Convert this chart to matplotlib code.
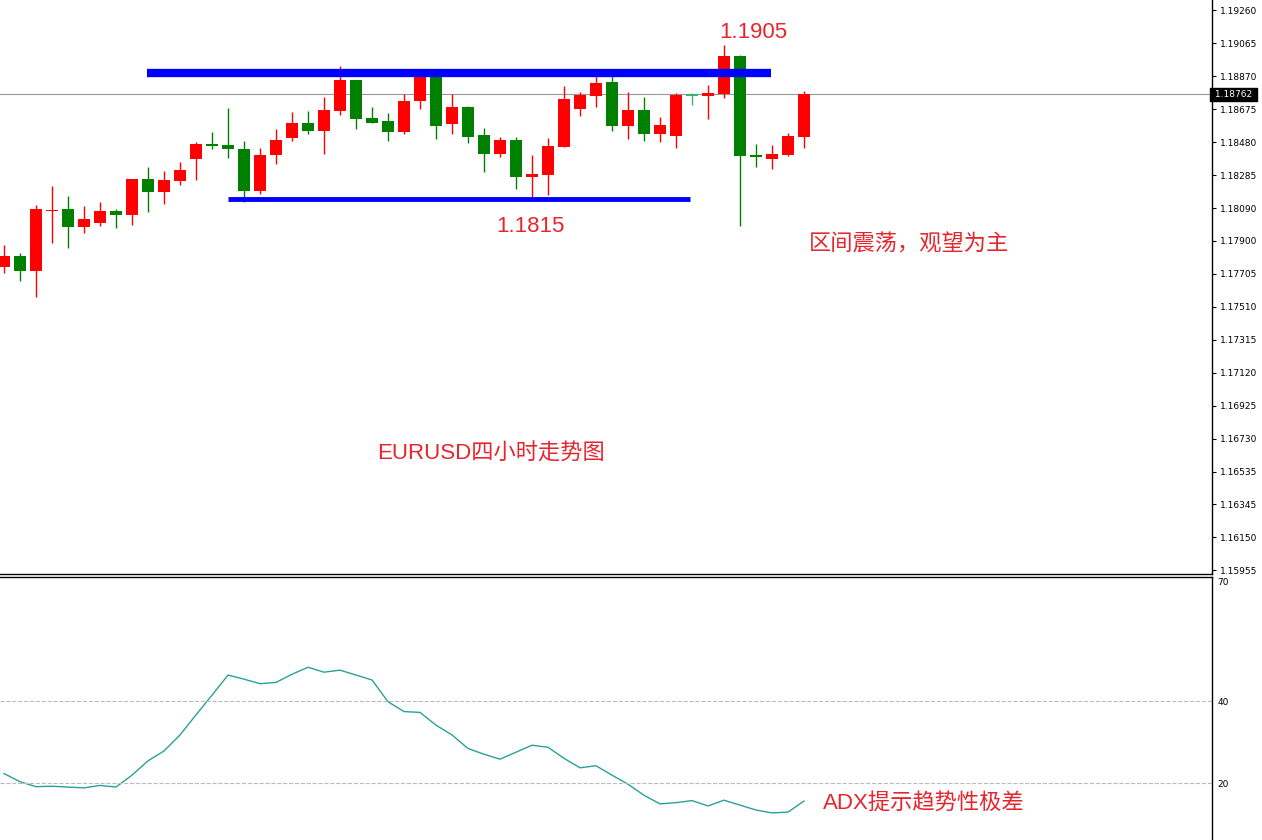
import numpy as np
import matplotlib.pyplot as plt

plt.rcParams['font.family'] = ['Liberation Sans', 'Noto Sans CJK SC', 'DejaVu Sans']

# ==========================================================
# Data (EURUSD 4H candles)
# ==========================================================

opens = [1.17744, 1.17809, 1.17720, 1.18074, 1.18086, 1.17980, 1.18003, 1.18074, 1.18051, 1.18263,
         1.18186, 1.18251, 1.18381, 1.18469, 1.18464, 1.18440, 1.18192, 1.18405, 1.18505, 1.18593,
         1.18546, 1.18664, 1.18847, 1.18623, 1.18605, 1.18540, 1.18723, 1.18871, 1.18587, 1.18688,
         1.18523, 1.18410, 1.18493, 1.18275, 1.18287, 1.18452, 1.18676, 1.18753, 1.18835, 1.18576,
         1.18670, 1.18528, 1.18517, 1.18764, 1.18753, 1.18764, 1.18989, 1.18405, 1.18381, 1.18405,
         1.18511]
highs = [1.17874, 1.17826, 1.18110, 1.18222, 1.18163, 1.18104, 1.18127, 1.18086, 1.18263, 1.18334,
         1.18310, 1.18363, 1.18481, 1.18540, 1.18682, 1.18487, 1.18446, 1.18558, 1.18658, 1.18664,
         1.18747, 1.18930, 1.18847, 1.18688, 1.18652, 1.18764, 1.18894, 1.18871, 1.18764, 1.18694,
         1.18564, 1.18511, 1.18511, 1.18405, 1.18505, 1.18812, 1.18776, 1.18894, 1.18888, 1.18776,
         1.18747, 1.18629, 1.18770, 1.18770, 1.18818, 1.19054, 1.18995, 1.18469, 1.18464, 1.18534,
         1.18782]
lows = [1.17708, 1.17661, 1.17567, 1.17885, 1.17856, 1.17944, 1.17986, 1.17974, 1.17992, 1.18068,
        1.18116, 1.18228, 1.18257, 1.18440, 1.18387, 1.18127, 1.18174, 1.18351, 1.18487, 1.18528,
        1.18410, 1.18641, 1.18558, 1.18593, 1.18487, 1.18528, 1.18676, 1.18499, 1.18528, 1.18475,
        1.18304, 1.18393, 1.18204, 1.18151, 1.18169, 1.18452, 1.18635, 1.18688, 1.18546, 1.18499,
        1.18487, 1.18481, 1.18446, 1.18700, 1.18617, 1.18741, 1.17986, 1.18334, 1.18322, 1.18399,
        1.18446]
closes = [1.17809, 1.17720, 1.18086, 1.18080, 1.17980, 1.18027, 1.18074, 1.18051, 1.18263, 1.18186,
          1.18257, 1.18316, 1.18469, 1.18458, 1.18440, 1.18192, 1.18405, 1.18493, 1.18593, 1.18546,
          1.18670, 1.18847, 1.18617, 1.18593, 1.18540, 1.18723, 1.18882, 1.18576, 1.18688, 1.18511,
          1.18410, 1.18493, 1.18275, 1.18292, 1.18458, 1.18735, 1.18759, 1.18829, 1.18576, 1.18670,
          1.18528, 1.18582, 1.18759, 1.18753, 1.18770, 1.18989, 1.18399, 1.18393, 1.18410, 1.18517,
          1.18764]

adx = [22.4, 20.4, 19.2, 19.3, 19.1, 18.9, 19.5, 19.1, 22.0, 25.5,
       27.9, 31.8, 36.7, 41.5, 46.4, 45.4, 44.3, 44.6, 46.6, 48.3,
       47.1, 47.6, 46.4, 45.2, 39.9, 37.5, 37.3, 34.2, 31.8, 28.5,
       27.1, 25.9, 27.6, 29.3, 28.8, 26.1, 23.8, 24.3, 22.0, 19.8,
       17.1, 15.0, 15.3, 15.8, 14.5, 15.9, 14.7, 13.5, 12.8, 13.0,
       15.7]

last_price = 1.18762
resistance = 1.18888
support = 1.18145
price_ticks = [1.19260, 1.19065, 1.18870, 1.18675, 1.18480, 1.18285, 1.18090, 1.17900,
               1.17705, 1.17510, 1.17315, 1.17120, 1.16925, 1.16730, 1.16535, 1.16345,
               1.16150, 1.15955]

RED = "#ff0000"
GREEN = "#008000"
TXT = "#e8242c"

# ==========================================================
# Figure
# ==========================================================

fig = plt.figure(figsize=(12.62, 8.40), dpi=100)
ax = fig.add_axes([0, 0.3167, 0.9604, 0.6833])
ax2 = fig.add_axes([0, 0, 0.9604, 0.3131])

x = np.arange(len(opens))
o = np.array(opens)
c = np.array(closes)
colors = [RED if cc > oo else GREEN for oo, cc in zip(o, c)]
colors[43] = "#3cb371"

ax.vlines(x, lows, highs, colors=colors, linewidth=1.0, zorder=2)
bottoms = np.minimum(o, c)
heights = np.maximum(np.abs(c - o), 0.00003)
ax.bar(x, heights, bottom=bottoms, width=0.69, color=colors, linewidth=0, zorder=3)

ax.axhline(last_price, color="#999999", linewidth=0.8, zorder=1)
ax.hlines(resistance, 8.94, 47.94, colors="#0000ff", linewidth=6, zorder=4)
ax.hlines(support, 14.0, 42.9, colors="#0000ff", linewidth=3.5, zorder=4)

ax.set_xlim(-0.25, 75.5)
ax.set_ylim(1.15933, 1.19319)
ax.set_xticks([])
ax.yaxis.tick_right()
ax.set_yticks(price_ticks)
ax.set_yticklabels([f"{t:.5f}" for t in price_ticks], fontsize=6.5, family="DejaVu Sans")
ax.tick_params(axis="y", length=3, width=0.8, pad=3)
for s in ["top", "left"]:
    ax.spines[s].set_visible(False)
ax.spines["right"].set_linewidth(1.0)
ax.spines["bottom"].set_linewidth(1.0)

ax.text(1.0, last_price, " 1.18762 ", transform=ax.get_yaxis_transform(),
        fontsize=6.5, family="DejaVu Sans", color="white", va="center", ha="left",
        bbox=dict(boxstyle="square,pad=0.25", fc="black", ec="black"))

ax.text(46.8, 1.19126, "1.1905", color=TXT, fontsize=16, ha="center", va="center")
ax.text(32.9, 1.17984, "1.1815", color=TXT, fontsize=16, ha="center", va="center")
ax.text(50.3, 1.17874, "区间震荡，观望为主", color=TXT, fontsize=16, ha="left", va="center")
ax.text(23.3, 1.16640, "EURUSD四小时走势图", color=TXT, fontsize=16, ha="left", va="center")

# ==========================================================
# ADX panel
# ==========================================================

ax2.plot(x, adx, color="#2aa198", linewidth=1.0)
ax2.axhline(40, color="#bbbbbb", linestyle="--", linewidth=0.8)
ax2.axhline(20, color="#bbbbbb", linestyle="--", linewidth=0.8)
ax2.set_xlim(-0.25, 75.5)
ax2.set_ylim(6.2, 70.3)
ax2.set_xticks([])
ax2.yaxis.tick_right()
ax2.set_yticks([20, 40, 70])
ax2.set_yticklabels(["20", "40", "70"], fontsize=6.5, family="DejaVu Sans")
ax2.get_yticklabels()[2].set_va("top")
ax2.tick_params(axis="y", length=0, pad=4)
for s in ["bottom", "left"]:
    ax2.spines[s].set_visible(False)
ax2.spines["right"].set_linewidth(1.0)
ax2.spines["top"].set_linewidth(1.0)

ax2.text(51.2, 14.9, "ADX提示趋势性极差", color=TXT, fontsize=16, ha="left", va="center")

fig.savefig("out.png", dpi=100)
